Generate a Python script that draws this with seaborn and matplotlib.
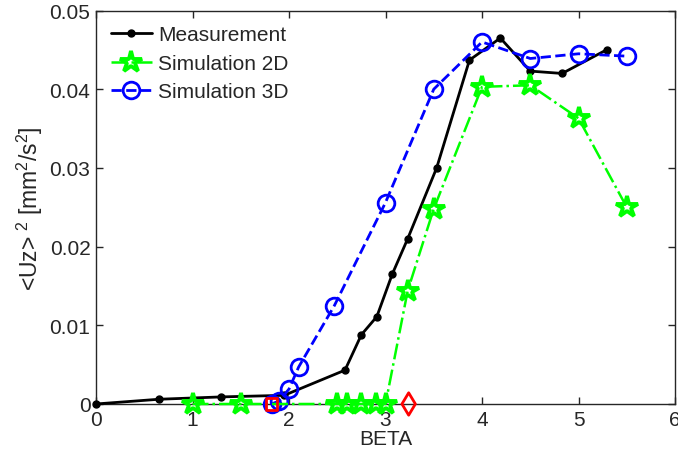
import numpy as np
import pandas as pd
import matplotlib
matplotlib.use("Agg")
import matplotlib.pyplot as plt
import seaborn as sns

# measurement
beta_meas = [0.0, 0.65, 1.3, 1.95, 2.58, 2.75, 2.91, 3.07, 3.23, 3.53, 3.87, 4.19, 4.5, 4.83, 5.29]
uz_meas = [0.0, 0.0006, 0.0009, 0.0011, 0.0043, 0.0088, 0.0111, 0.0165, 0.0210, 0.0300, 0.0437, 0.0465, 0.0423, 0.0420, 0.0450]

# simulation 2D
beta_2d = [1.0, 1.5, 2.5, 2.6, 2.75, 2.9, 3.0, 3.23, 3.5, 4.0, 4.5, 5.0, 5.5]
uz_2d = [0.0, 0.0, 0.0, 0.0, 0.0, 0.0, 0.0, 0.0144, 0.0248, 0.0403, 0.0405, 0.0363, 0.0250]

# simulation 3D
beta_3d = [1.82, 1.9, 2.0, 2.1, 2.47, 3.0, 3.5, 4.0, 4.5, 5.0, 5.5]
uz_3d = [0.0, 0.0004, 0.0019, 0.0047, 0.0125, 0.0256, 0.0400, 0.0460, 0.0439, 0.0445, 0.0442]

# extra markers on the axis
beta_sq = [1.82]
uz_sq = [0.0]
beta_dia = [3.24]
uz_dia = [0.0]

sns.set_style("ticks")
plt.rcParams['font.family'] = ['Liberation Sans', 'DejaVu Sans']
plt.rcParams['mathtext.default'] = 'regular'
FS = 15

fig = plt.figure(figsize=(6.78, 4.6), dpi=100)
ax = fig.add_axes([0.1416, 0.1196, 0.8540, 0.8554])

sns.lineplot(x=beta_meas, y=uz_meas, ax=ax, color='black', lw=2, marker='o', ms=5,
             mec='black', mfc='black', mew=1, sort=False, errorbar=None,
             label='Measurement', clip_on=False, zorder=3)
sns.lineplot(x=beta_2d, y=uz_2d, ax=ax, color='#00ff00', lw=1.8, ls='-.', marker='*', ms=16,
             mec='#00ff00', mfc='none', mew=2.8, sort=False, errorbar=None,
             label='Simulation 2D', clip_on=False, zorder=4)
sns.lineplot(x=beta_3d, y=uz_3d, ax=ax, color='#0000ff', lw=2, ls='--', marker='o', ms=12,
             mec='#0000ff', mfc='none', mew=2, sort=False, errorbar=None,
             label='Simulation 3D', clip_on=False, zorder=3)
sns.scatterplot(x=beta_sq, y=uz_sq, ax=ax, marker='s', s=70, facecolor='none',
                edgecolor='red', linewidth=2, zorder=5, clip_on=False)
sns.scatterplot(x=beta_dia, y=uz_dia, ax=ax, marker='d', s=130, facecolor='none',
                edgecolor='red', linewidth=2, zorder=5, clip_on=False)

ax.set_xlim(0, 6)
ax.set_ylim(0, 0.05)
ax.set_xticks([0, 1, 2, 3, 4, 5, 6])
ax.set_yticks([0, 0.01, 0.02, 0.03, 0.04, 0.05])
ax.set_yticklabels(['0', '0.01', '0.02', '0.03', '0.04', '0.05'])
ax.tick_params(direction='in', length=5, width=1, top=True, right=True, labelsize=FS, pad=4)
for s in ax.spines.values():
    s.set_linewidth(1)
    s.set_visible(True)

ax.set_xlabel('BETA', fontsize=FS, labelpad=0)
ax.set_ylabel(r'<Uz>$^{\ 2}$ [mm$^2$/s$^2$]', fontsize=16.5, labelpad=3)

ax.legend(loc='upper left', frameon=False, fontsize=FS, handlelength=1.95,
          handletextpad=0.3, labelspacing=0.45, borderpad=0.3, borderaxespad=0.42,
          bbox_to_anchor=(0.0, 1.0))

fig.savefig('out.png', dpi=100)
